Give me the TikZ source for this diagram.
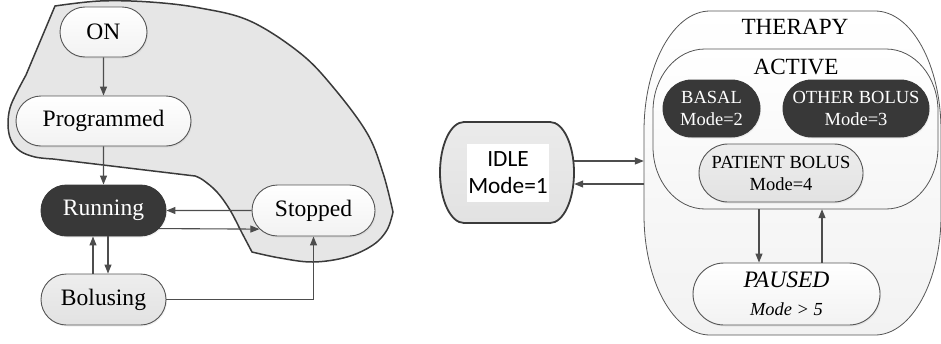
\documentclass[tikz,border=0pt]{standalone}
\usepackage{graphicx}
\usepackage{fontspec}
\setmainfont{Liberation Serif}
\newfontfamily\idlefont{Carlito}
\usetikzlibrary{shapes.misc,arrows.meta,shadows}

\definecolor{blobfill}{HTML}{E6E6E6}
\definecolor{blobedge}{HTML}{3A3A3A}
\definecolor{edge}{HTML}{555555}
\definecolor{darkstate}{HTML}{383838}
\definecolor{lightstate}{HTML}{E2E2E2}
\definecolor{arrowgray}{HTML}{4D4D4D}
\definecolor{framefill}{HTML}{F2F2F2}

% large labels: 18.4pt type enlarged to about 23.5pt
\newcommand\bigword[2][1.28]{\scalebox{#1}{\fontsize{18.4pt}{22pt}\selectfont #2}}

% box with elliptical corners: style, left, top, right, bottom, x radius, y radius
\newcommand\ovalframe[7]{%
  \path[#1] ({#2+#6},#3) -- ({#4-#6},#3)
    .. controls ({#4-0.448*#6},#3) and (#4,{#3+0.448*#7}) .. (#4,{#3+#7})
    -- (#4,{#5-#7})
    .. controls (#4,{#5-0.448*#7}) and ({#4-0.448*#6},#5) .. ({#4-#6},#5)
    -- ({#2+#6},#5)
    .. controls ({#2+0.448*#6},#5) and (#2,{#5-0.448*#7}) .. (#2,{#5-#7})
    -- (#2,{#3+#7})
    .. controls (#2,{#3+0.448*#7}) and ({#2+0.448*#6},#3) .. ({#2+#6},#3)
    -- cycle;}

\begin{document}
\begin{tikzpicture}[x=1pt,y=-1pt,
  smalltext/.style={font=\fontsize{18.5pt}{22pt}\selectfont},
  pill/.style={rounded rectangle, draw=edge, line width=0.9pt, inner sep=0pt,
    align=center, drop shadow={opacity=0.12, shadow xshift=1pt, shadow yshift=-1.5pt}},
  whitepill/.style={pill, top color=white, bottom color=framefill},
  darkpill/.style={pill, fill=darkstate, draw=darkstate, text=white},
  graypill/.style={pill, top color=lightstate!60, bottom color=lightstate},
  area/.style={draw=none, fill=none, inner sep=0pt, rectangle},
  arr/.style={draw=arrowgray, line width=1.1pt, -{Triangle[length=9pt,width=7pt]}}]

\useasboundingbox (0,0) rectangle (941,343);

% ---------- left: operating states ----------
\draw[draw=blobedge, line width=1.5pt, fill=blobfill]
  plot[smooth, tension=0.6] coordinates {(55,6) (100,1) (150,2) (200,8) (250,21) (300,53) (333,87) (367,133) (383,173) (393,212)}
  -- plot[smooth, tension=0.6] coordinates {(393,212) (387,230) (373,245) (347,257) (313,262) (280,258) (252,252)}
  -- plot[smooth, tension=0.6] coordinates {(252,252) (242,233) (230,210) (217,192) (203,180) (195,176)}
  -- plot[smooth, tension=0.6] coordinates {(53,159) (35,157) (20,151) (11,140) (8,125) (10,108) (17,92) (26,75)}
  -- cycle;

\node[whitepill, minimum width=87pt, minimum height=50pt] (on) at (103.5,32) {\bigword{ON}};
\node[whitepill, minimum width=175pt, minimum height=50pt] (prog) at (103.5,121) {\bigword{Programmed}};
\node[darkpill, minimum width=125pt, minimum height=51pt] (run) at (103.5,210.5) {\bigword{Running}};
\node[whitepill, minimum width=123pt, minimum height=51pt] (stop) at (313.5,210.5) {\bigword{Stopped}};
\node[graypill, minimum width=125pt, minimum height=51pt] (bol) at (103.5,299.5) {\bigword{Bolusing}};

\draw[arr] (on) -- (prog);
\draw[arr] (prog) -- (run);
\draw[arr] (stop) -- (run);
\draw[arr] (run.-18.57) -- (stop.199.06);
\coordinate (bup) at ([xshift=-10.5pt]bol.north);
\coordinate (bdown) at ([xshift=4.5pt]bol.north);
\draw[arr] (bup) -- (bup |- run.south);
\draw[arr] (bdown |- run.south) -- (bdown);
\draw[arr] (bol.east) -| (stop.south);

% ---------- right: pump modes ----------
\node[area, minimum width=297pt, minimum height=324pt] (therapy) at (792.5,173) {};
\ovalframe{draw=edge, line width=0.8pt, top color=white, bottom color=framefill}{644}{11}{941}{335}{66}{120}
\node[inner sep=0pt] (therapylabel) at (795,27) {\bigword[1.26]{THERAPY}};

\node[area, minimum width=285pt, minimum height=160pt] (active) at (795.5,129) {};
\ovalframe{draw=edge, line width=0.8pt, top color=white, bottom color=framefill!70!white}{653}{49}{938}{209}{52}{62}
\node[inner sep=0pt] (activelabel) at (796,67) {\bigword[1.26]{ACTIVE}};

\node[darkpill, smalltext, minimum width=97pt, minimum height=57pt] (basal) at (711.5,108.5) {BASAL\\Mode=2};
\node[darkpill, smalltext, minimum width=146pt, minimum height=57pt] (other) at (856,108.5) {OTHER BOLUS\\Mode=3};
\node[graypill, smalltext, minimum width=164pt, minimum height=58pt] (patient) at (781,173) {PATIENT BOLUS\\Mode=4};
\node[whitepill, font=\fontsize{18.4pt}{28pt}\selectfont\itshape, minimum width=187pt, minimum height=62pt] (paused) at (786.5,294)
  {\scalebox{1.28}{PAUSED}\\Mode > 5};

\node[area, minimum width=134pt, minimum height=101pt] (idle) at (507,172.5) {};
\ovalframe{draw=blobedge, line width=1.8pt, top color=lightstate!70, bottom color=lightstate}{440}{122}{574}{223}{24}{50.5}
\node[fill=white, inner sep=0pt, minimum width=82pt, minimum height=58pt, align=center,
  font=\idlefont\fontsize{23.3pt}{27pt}\selectfont] (idletext) at (508,173) {IDLE\\Mode=1};

\coordinate (idlein) at ([yshift=11.5pt]idle.east);
\coordinate (idleout) at ([yshift=-11.5pt]idle.east);
\draw[arr] (idlein) -- (idlein -| therapy.west);
\draw[arr] (idleout -| therapy.west) -- (idleout);

\coordinate (pdown) at ([xshift=-27.5pt]paused.north);
\coordinate (pup) at ([xshift=35.5pt]paused.north);
\draw[arr] (pdown |- active.south) -- (pdown);
\draw[arr] (pup) -- (pup |- active.south);
\end{tikzpicture}
\end{document}
